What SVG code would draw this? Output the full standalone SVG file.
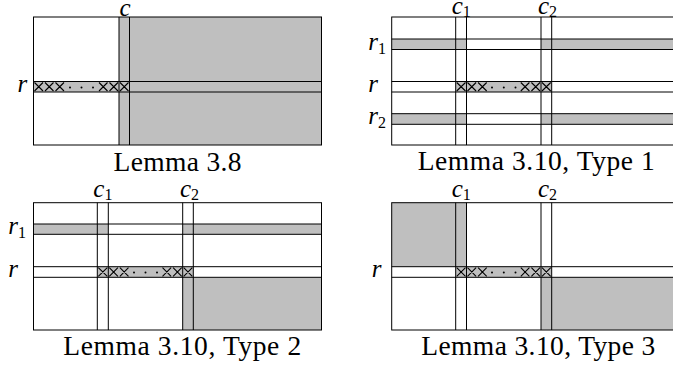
<svg xmlns="http://www.w3.org/2000/svg" width="673" height="366" viewBox="0 0 673 366">
<style>
.g{fill:#bfbfbf;stroke:none}
.o{fill:none;stroke:#000;stroke-width:1}
.ln{fill:none;stroke:#000;stroke-width:1}
.x{fill:none;stroke:#000;stroke-width:1.1}
.d{fill:#000}
.lbl{font-family:'Liberation Serif','Times New Roman',Times,'DejaVu Serif','Noto Serif',serif;font-style:italic;font-size:25px;fill:#000}
.sub{font-style:normal;font-size:16px}
.cap{font-family:'Liberation Serif','Times New Roman',Times,'DejaVu Serif','Noto Serif',serif;font-size:27.5px;fill:#000;text-anchor:middle}
</style>
<rect width="673" height="366" fill="#fff"/>

<g id="lemma38">
  <rect class="g" x="119" y="17" width="202.5" height="128"/>
  <rect class="g" x="33.5" y="81.5" width="85.5" height="10.5"/>
  <rect class="o" x="33.5" y="17" width="288" height="128"/>
  <path class="ln" d="M33.5 81.5H321.5M33.5 92H321.5M119 17V145M129.5 17V145"/>
  <path class="x" d="M34.5 82.5L43 91M43 82.5L34.5 91M45 82.5L53.5 91M53.5 82.5L45 91M55.5 82.5L64 91M64 82.5L55.5 91M99 82.5L107.5 91M107.5 82.5L99 91M109.5 82.5L118 91M118 82.5L109.5 91M120 82.5L128.5 91M128.5 82.5L120 91"/>
  <circle class="d" cx="70" cy="87.5" r="1"/><circle class="d" cx="81.5" cy="87.5" r="1"/><circle class="d" cx="93" cy="87.5" r="1"/>
  <text class="lbl" x="119.5" y="15.5">c</text>
  <text class="lbl" x="17.5" y="92">r</text>
  <text class="cap" x="177.5" y="171" textLength="128" lengthAdjust="spacing">Lemma 3.8</text>
</g>

<g id="type1">
  <rect class="g" x="391.7" y="39" width="74.8" height="10.5"/>
  <rect class="g" x="541" y="39" width="133" height="10.5"/>
  <rect class="g" x="391.7" y="113.7" width="74.8" height="10.6"/>
  <rect class="g" x="541" y="113.7" width="133" height="10.6"/>
  <rect class="g" x="455.7" y="81.5" width="96" height="10.5"/>
  <rect class="o" x="391.7" y="17" width="290" height="128"/>
  <path class="ln" d="M391.7 39H673M391.7 49.5H673M391.7 81.5H673M391.7 92H673M391.7 113.7H673M391.7 124.3H673M455.7 17V145M466.5 17V145M541 17V145M551.7 17V145"/>
  <path class="x" d="M456.7 82.5L465.5 91M465.5 82.5L456.7 91M467.5 82.5L476.1 91M476.1 82.5L467.5 91M478.1 82.5L486.7 91M486.7 82.5L478.1 91M520.8 82.5L529.4 91M529.4 82.5L520.8 91M531.4 82.5L540 91M540 82.5L531.4 91M542 82.5L550.7 91M550.7 82.5L542 91"/>
  <circle class="d" cx="492" cy="87.5" r="1"/><circle class="d" cx="503.8" cy="87.5" r="1"/><circle class="d" cx="515.5" cy="87.5" r="1"/>
  <text class="lbl" x="451.7" y="13.5">c<tspan class="sub" dy="3">1</tspan></text>
  <text class="lbl" x="538" y="13.5">c<tspan class="sub" dy="3">2</tspan></text>
  <text class="lbl" x="368.3" y="49.5">r<tspan class="sub" dy="4">1</tspan></text>
  <text class="lbl" x="368.3" y="92">r</text>
  <text class="lbl" x="368.3" y="124.3">r<tspan class="sub" dy="4">2</tspan></text>
  <text class="cap" x="536.2" y="170" textLength="237" lengthAdjust="spacing">Lemma 3.10, Type 1</text>
</g>

<g id="type2">
  <rect class="g" x="33.5" y="224" width="74.8" height="10.3"/>
  <rect class="g" x="182.7" y="224" width="138.8" height="10.3"/>
  <rect class="g" x="97.3" y="266.7" width="96" height="10.6"/>
  <rect class="g" x="182.7" y="277.3" width="138.8" height="52.7"/>
  <rect class="o" x="33.5" y="202.7" width="288" height="127.3"/>
  <path class="ln" d="M33.5 224H321.5M33.5 234.3H321.5M33.5 266.7H321.5M33.5 277.3H321.5M97.3 202.7V330M108.3 202.7V330M182.7 202.7V330M193.3 202.7V330"/>
  <path class="x" d="M98.3 267.7L107.3 276.3M107.3 267.7L98.3 276.3M109.3 267.7L117.9 276.3M117.9 267.7L109.3 276.3M119.9 267.7L128.5 276.3M128.5 267.7L119.9 276.3M162.5 267.7L171.1 276.3M171.1 267.7L162.5 276.3M173.1 267.7L181.7 276.3M181.7 267.7L173.1 276.3M183.7 267.7L192.3 276.3M192.3 267.7L183.7 276.3"/>
  <circle class="d" cx="134" cy="272.5" r="1"/><circle class="d" cx="145.5" cy="272.5" r="1"/><circle class="d" cx="157" cy="272.5" r="1"/>
  <text class="lbl" x="93.3" y="197">c<tspan class="sub" dy="3">1</tspan></text>
  <text class="lbl" x="180" y="197">c<tspan class="sub" dy="3">2</tspan></text>
  <text class="lbl" x="8.3" y="234.3">r<tspan class="sub" dy="4">1</tspan></text>
  <text class="lbl" x="8.3" y="277.3">r</text>
  <text class="cap" x="182.2" y="355" textLength="238" lengthAdjust="spacing">Lemma 3.10, Type 2</text>
</g>

<g id="type3">
  <rect class="g" x="391.7" y="202.7" width="74.8" height="64"/>
  <rect class="g" x="455.7" y="266.7" width="96" height="10.6"/>
  <rect class="g" x="541" y="277.3" width="133" height="52.7"/>
  <rect class="o" x="391.7" y="202.7" width="290" height="127.3"/>
  <path class="ln" d="M391.7 266.7H673M391.7 277.3H673M455.7 202.7V330M466.5 202.7V330M541 202.7V330M551.7 202.7V330"/>
  <path class="x" d="M456.7 267.7L465.5 276.3M465.5 267.7L456.7 276.3M467.5 267.7L476.1 276.3M476.1 267.7L467.5 276.3M478.1 267.7L486.7 276.3M486.7 267.7L478.1 276.3M520.8 267.7L529.4 276.3M529.4 267.7L520.8 276.3M531.4 267.7L540 276.3M540 267.7L531.4 276.3M542 267.7L550.7 276.3M550.7 267.7L542 276.3"/>
  <circle class="d" cx="492" cy="272.5" r="1"/><circle class="d" cx="503.8" cy="272.5" r="1"/><circle class="d" cx="515.5" cy="272.5" r="1"/>
  <text class="lbl" x="451.7" y="197">c<tspan class="sub" dy="3">1</tspan></text>
  <text class="lbl" x="538" y="197">c<tspan class="sub" dy="3">2</tspan></text>
  <text class="lbl" x="371.7" y="277.3">r</text>
  <text class="cap" x="538.3" y="355" textLength="234" lengthAdjust="spacing">Lemma 3.10, Type 3</text>
</g>
</svg>
